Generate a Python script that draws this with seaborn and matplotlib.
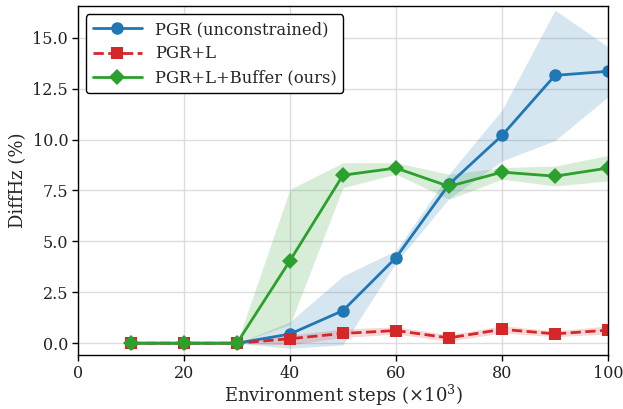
import numpy as np
import pandas as pd
import matplotlib
matplotlib.use("Agg")
import matplotlib.pyplot as plt
import seaborn as sns

steps = [10, 20, 30, 40, 50, 60, 70, 80, 90, 100]

pgr_mean = [0, 0, 0, 0.45, 1.6, 4.2, 7.8, 10.2, 13.15, 13.35]
pgr_low = [0, 0, 0, -0.25, -0.08, 3.95, 7.1, 8.95, 9.95, 12.1]
pgr_high = [0, 0, 0, 1.05, 3.3, 4.55, 8.3, 11.45, 16.35, 14.55]

pgrl_mean = [0, 0, 0, 0.22, 0.48, 0.62, 0.26, 0.68, 0.46, 0.64]
pgrl_low = [0, 0, 0, -0.08, 0.28, 0.45, 0.1, 0.5, 0.32, 0.45]
pgrl_high = [0, 0, 0, 0.4, 0.7, 0.8, 0.42, 0.86, 0.6, 0.85]

buf_mean = [0, 0, 0, 4.05, 8.25, 8.6, 7.7, 8.4, 8.2, 8.6]
buf_low = [0, 0, 0, 0.9, 7.64, 8.3, 7.07, 8.05, 7.72, 7.97]
buf_high = [0, 0, 0, 7.56, 8.86, 8.86, 8.3, 8.62, 8.7, 9.22]

sns.set_style("whitegrid")
plt.rcParams['font.family'] = ['DejaVu Serif']
plt.rcParams['mathtext.fontset'] = 'dejavuserif'

fig, ax = plt.subplots(figsize=(6.23, 4.09), dpi=100)

series = [
    ("PGR (unconstrained)", pgr_mean, pgr_low, pgr_high, "#1f77b4", "o", "-", 9),
    ("PGR+L", pgrl_mean, pgrl_low, pgrl_high, "#d62728", "s", "--", 8),
    ("PGR+L+Buffer (ours)", buf_mean, buf_low, buf_high, "#2ca02c", "D", "-", 8),
]

for name, mean, low, high, col, mk, ls, ms in series:
    df = pd.DataFrame({"x": steps, "y": mean})
    sns.lineplot(data=df, x="x", y="y", ax=ax, color=col, marker=mk,
                 markersize=ms, linestyle=ls, linewidth=2, label=name,
                 markeredgewidth=0)
    ax.fill_between(steps, low, high, color=col, alpha=0.18, linewidth=0)

ax.set_xlim(0, 100)
ax.set_ylim(-0.58, 16.55)
ax.set_yticks([0, 2.5, 5, 7.5, 10, 12.5, 15])
ax.set_yticklabels(["0.0", "2.5", "5.0", "7.5", "10.0", "12.5", "15.0"])
ax.set_xticks([0, 20, 40, 60, 80, 100])
ax.tick_params(axis="both", labelsize=11.5, length=4, width=1, bottom=True, left=True,
               colors="black", labelcolor="#222222", pad=3)
ax.grid(color="#dddddd", linewidth=1)
for s in ax.spines.values():
    s.set_color("black")
    s.set_linewidth(1)

ax.set_xlabel(r"Environment steps ($\times 10^3$)", fontsize=13, labelpad=1)
ax.set_ylabel("DiffHz (%)", fontsize=13, labelpad=4)

leg = ax.legend(loc="upper left", fontsize=11.8, frameon=True, fancybox=True,
                edgecolor="black", framealpha=1, handlelength=3, labelspacing=0.45)
leg.get_frame().set_linewidth(1)

fig.subplots_adjust(left=0.125, right=0.976, top=0.985, bottom=0.132)
fig.savefig("out.png", dpi=100)
